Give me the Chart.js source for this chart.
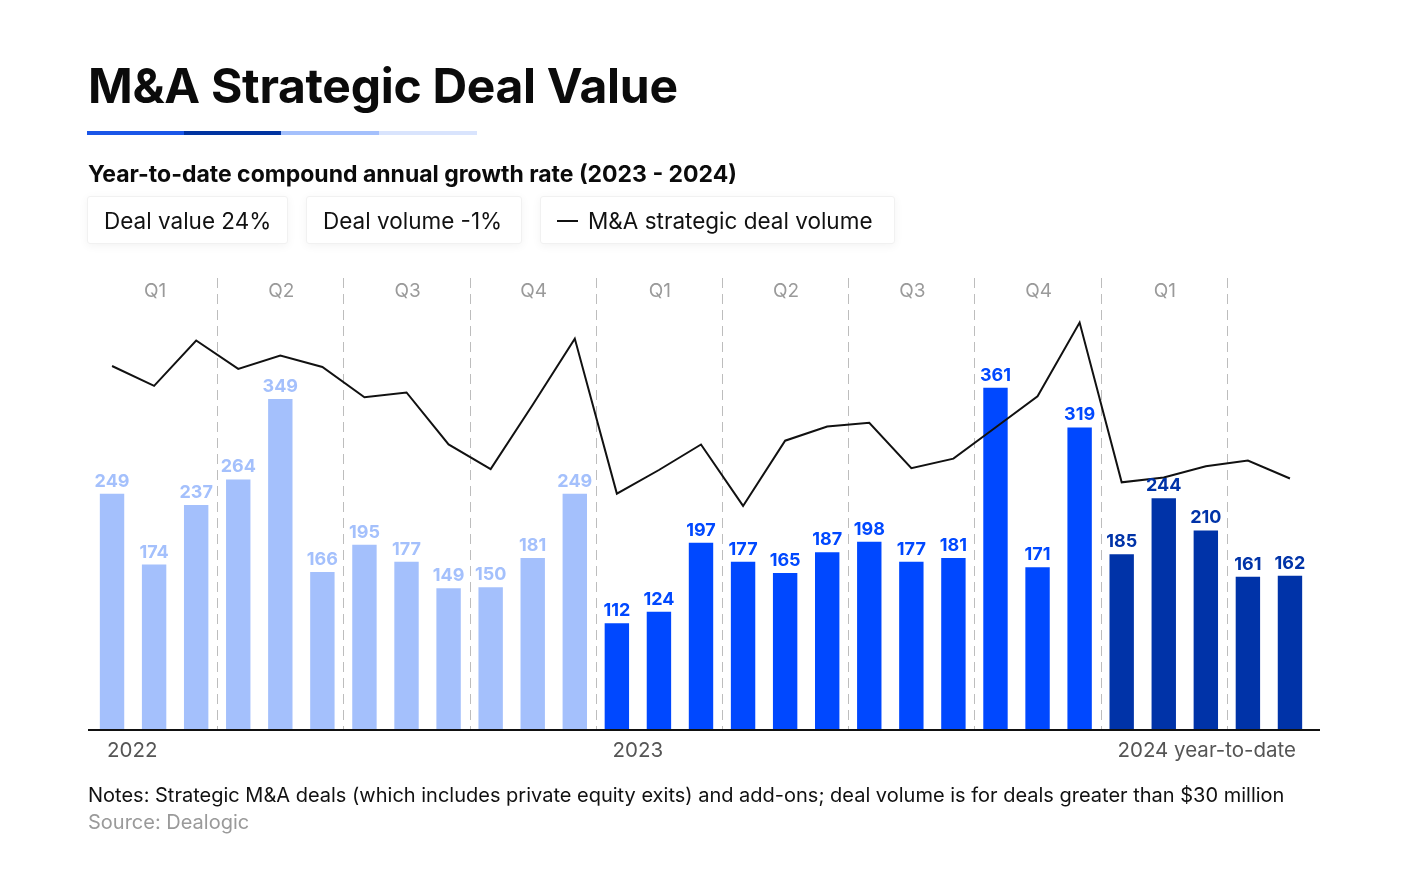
<!DOCTYPE html>
<html>
<head>
<meta charset="utf-8">
<script src="https://cdn.jsdelivr.net/npm/chart.js@4.4.1/dist/chart.umd.min.js"></script>
<style>
  html, body { margin: 0; padding: 0; background: #ffffff; }
  body { width: 1420px; height: 883px; position: relative; overflow: hidden; font-family: Inter, "Noto Sans", sans-serif; color: #111; }
  #chart { position: absolute; left: 0; top: 0; }
  .abs { position: absolute; white-space: nowrap; }
  #title { left: 88px; top: 61.5px; font-size: 48px; line-height: 48px; font-weight: 700; letter-spacing: -0.3px; color: #0b0b0b; }
  .ul { position: absolute; top: 131px; height: 4px; }
  #subtitle { left: 88px; top: 163px; font-size: 23px; line-height: 23px; font-weight: 700; color: #0b0b0b; }
  .box { position: absolute; top: 196px; height: 48px; line-height: 48px; font-size: 22.5px; padding: 0 16px; box-sizing: border-box; background: #fff; border: 1px solid #f1f1f1; border-radius: 3px; box-shadow: 0 2px 10px rgba(0,0,0,0.05); color: #111; white-space: nowrap; }
  .dash { display: inline-block; width: 21px; height: 2px; background: #111; vertical-align: middle; margin-right: 10px; position: relative; top: -2px; }
  #notes { left: 88px; top: 785px; font-size: 20px; line-height: 20px; color: #111; }
  #source { left: 88px; top: 811.5px; font-size: 20px; line-height: 20px; color: #9a9a9a; }
</style>
</head>
<body>
<canvas id="chart" width="1420" height="883"></canvas>
<div id="title" class="abs">M&amp;A Strategic Deal Value</div>
<div class="ul" style="left:87px;width:97px;background:#1a56e8"></div>
<div class="ul" style="left:184px;width:97px;background:#0033a0"></div>
<div class="ul" style="left:281px;width:98px;background:#a4c0fc"></div>
<div class="ul" style="left:379px;width:98px;background:#d9e4fd"></div>
<div id="subtitle" class="abs">Year-to-date compound annual growth rate (2023 - 2024)</div>
<div class="box" style="left:87px;width:201px">Deal value 24%</div>
<div class="box" style="left:306px;width:216px">Deal volume -1%</div>
<div class="box" style="left:540px;width:355px"><span class="dash"></span>M&amp;A strategic deal volume</div>
<div id="notes" class="abs">Notes: Strategic M&amp;A deals (which includes private equity exits) and add-ons; deal volume is for deals greater than $30 million</div>
<div id="source" class="abs">Source: Dealogic</div>

<script>
// ---------------- DATA ----------------
const categories = [
  "Jan 2022","Feb 2022","Mar 2022","Apr 2022","May 2022","Jun 2022",
  "Jul 2022","Aug 2022","Sep 2022","Oct 2022","Nov 2022","Dec 2022",
  "Jan 2023","Feb 2023","Mar 2023","Apr 2023","May 2023","Jun 2023",
  "Jul 2023","Aug 2023","Sep 2023","Oct 2023","Nov 2023","Dec 2023",
  "Jan 2024","Feb 2024","Mar 2024","Apr 2024","May 2024"
];
const categoryYears = [
  "2022","2022","2022","2022","2022","2022","2022","2022","2022","2022","2022","2022",
  "2023","2023","2023","2023","2023","2023","2023","2023","2023","2023","2023","2023",
  "2024","2024","2024","2024","2024"
];
const dealValue = [
  249, 174, 237, 264, 349, 166, 195, 177, 149, 150, 181, 249,
  112, 124, 197, 177, 165, 187, 198, 177, 181, 361, 171, 319,
  185, 244, 210, 161, 162
];
// M&A strategic deal volume (indexed)
const dealVolume = [
  384, 363, 411, 381, 395, 383, 351, 356, 301, 275, 343, 413,
  249, 274, 301, 236, 305, 320, 324, 276, 286, 319, 352, 430,
  261, 266, 278, 284, 265
];
const quarterLabels = ["Q1","Q2","Q3","Q4","Q1","Q2","Q3","Q4","Q1"];
const yearLabels = ["2022", "2023", "2024 year-to-date"];

// ---------------- STYLE ----------------
const yearColors = { "2022": "#a4c0fc", "2023": "#0048ff", "2024": "#0033a8" };
const barColors = categoryYears.map(y => yearColors[y]);
const FONT = 'Inter, "Noto Sans", sans-serif';

const overlayPlugin = {
  id: 'overlay',
  beforeDatasetsDraw(chart) {
    const ctx = chart.ctx;
    const x = chart.scales.x;
    const area = chart.chartArea;
    ctx.save();
    // dashed quarter separators
    ctx.strokeStyle = '#bdbdbd';
    ctx.lineWidth = 1;
    ctx.setLineDash([10, 6]);
    for (let q = 0; q < quarterLabels.length; q++) {
      const i = q * 3 + 2;
      if (i + 1 >= categories.length) break;
      const px = Math.round((x.getPixelForValue(i) + x.getPixelForValue(i + 1)) / 2) + 0.5;
      ctx.beginPath();
      ctx.moveTo(px, area.top - 2);
      ctx.lineTo(px, area.bottom);
      ctx.stroke();
    }
    ctx.setLineDash([]);
    // quarter labels
    ctx.fillStyle = '#9a9a9a';
    ctx.font = '19px ' + FONT;
    ctx.textAlign = 'center';
    ctx.textBaseline = 'alphabetic';
    quarterLabels.forEach((q, k) => {
      const px = x.getPixelForValue(k * 3 + 1) + 1;
      ctx.fillText(q, px, 297);
    });
    ctx.restore();
  },
  afterDatasetsDraw(chart) {
    const ctx = chart.ctx;
    const x = chart.scales.x;
    const area = chart.chartArea;
    const meta = chart.getDatasetMeta(1);
    ctx.save();
    // value labels
    ctx.font = 'bold 18px ' + FONT;
    ctx.textAlign = 'center';
    ctx.textBaseline = 'alphabetic';
    meta.data.forEach((bar, i) => {
      ctx.fillStyle = barColors[i];
      ctx.fillText(String(dealValue[i]), bar.x, bar.y - 7);
    });
    // baseline
    ctx.strokeStyle = '#111';
    ctx.lineWidth = 2;
    ctx.beginPath();
    ctx.moveTo(88, area.bottom + 1);
    ctx.lineTo(1320, area.bottom + 1);
    ctx.stroke();
    // year labels
    ctx.fillStyle = '#555';
    ctx.font = '20.5px ' + FONT;
    ctx.textAlign = 'left';
    ctx.fillText(yearLabels[0], x.getPixelForValue(0) - 5, 757);
    ctx.textAlign = 'center';
    ctx.fillText(yearLabels[1], (x.getPixelForValue(12) + x.getPixelForValue(13)) / 2, 757);
    ctx.textAlign = 'right';
    ctx.fillText(yearLabels[2], x.getPixelForValue(categories.length - 1) + 6, 757);
    ctx.restore();
  }
};

new Chart(document.getElementById('chart'), {
  type: 'bar',
  data: {
    labels: categories,
    datasets: [
      {
        type: 'line',
        label: 'M&A strategic deal volume',
        data: dealVolume,
        yAxisID: 'y1',
        borderColor: '#111',
        borderWidth: 2,
        pointRadius: 0,
        tension: 0,
        fill: false,
        order: 0
      },
      {
        type: 'bar',
        label: 'Deal value',
        data: dealValue,
        yAxisID: 'y',
        backgroundColor: barColors,
        borderWidth: 0,
        barPercentage: 0.58,
        categoryPercentage: 1.0,
        order: 1
      }
    ]
  },
  options: {
    responsive: false,
    animation: false,
    devicePixelRatio: 1,
    layout: { padding: { left: 91, right: 109, top: 280, bottom: 154 } },
    plugins: { legend: { display: false }, tooltip: { enabled: false } },
    scales: {
      x: { display: false, offset: true, grid: { display: false } },
      y: { display: false, min: 0, max: 475 },
      y1: { display: false, min: 0, max: 475 }
    }
  },
  plugins: [overlayPlugin]
});
</script>
</body>
</html>
